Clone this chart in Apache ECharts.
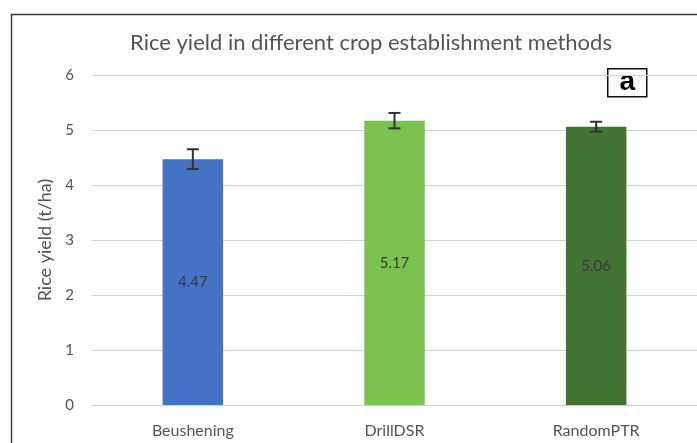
<!DOCTYPE html>
<html>
<head>
<meta charset="utf-8">
<script src="https://cdn.jsdelivr.net/npm/echarts@6/dist/echarts.min.js"></script>
<style>
  html, body { margin: 0; padding: 0; background: #ffffff; }
  #chart { width: 697px; height: 443px; }
</style>
</head>
<body>
<div id="chart"></div>
<script>
// Crop establishment methods and mean rice yield (t/ha)
const categories = ['Beushening', 'DrillDSR', 'RandomPTR'];
const yields = [4.47, 5.17, 5.06];
const yieldErrors = [0.18, 0.14, 0.09];
const barColors = ['#4472C4', '#7CC24E', '#427332'];
const yTicks = [0, 1, 2, 3, 4, 5, 6];

const chart = echarts.init(document.getElementById('chart'), null, { renderer: 'canvas' });

const textColor = '#555555';
const fontFamily = 'Lato, "Open Sans", sans-serif';

const option = {
  backgroundColor: '#ffffff',
  animation: false,
  title: {
    text: 'Rice yield in different crop establishment methods',
    left: 366,
    top: 27,
    textAlign: 'center',
    textStyle: { color: textColor, fontSize: 22, fontWeight: 'normal', fontFamily }
  },
  grid: { left: 92, top: 75, width: 607.5, height: 330 },
  xAxis: {
    type: 'category',
    data: categories,
    axisLine: { show: true, lineStyle: { color: '#d6cdc9', width: 1.2 } },
    axisTick: { show: false },
    axisLabel: { color: textColor, fontSize: 16, fontFamily, margin: 18 }
  },
  yAxis: {
    type: 'value',
    min: yTicks[0],
    max: yTicks[yTicks.length - 1],
    interval: 1,
    name: 'Rice yield (t/ha)',
    nameLocation: 'middle',
    nameGap: 36,
    nameRotate: 90,
    nameTextStyle: { color: textColor, fontSize: 18, fontFamily },
    axisLine: { show: false },
    axisTick: { show: false },
    axisLabel: { color: textColor, fontSize: 15, fontFamily, margin: 18 },
    splitLine: { lineStyle: { color: '#d9d0cc', width: 1.2 } }
  },
  series: [
    {
      type: 'bar',
      barWidth: '30%',
      data: yields.map((v, i) => ({ value: v, itemStyle: { color: barColors[i] } })),
      label: {
        show: true,
        position: 'inside',
        formatter: p => p.value.toFixed(2),
        color: '#3a3a3a',
        fontSize: 15,
        fontFamily
      }
    },
    {
      type: 'custom',
      data: yields.map((v, i) => [i, v, yieldErrors[i]]),
      z: 5,
      renderItem: (params, api) => {
        const x = api.value(0);
        const v = api.value(1);
        const e = api.value(2);
        const top = api.coord([x, v + e]);
        const bot = api.coord([x, v - e]);
        const cap = 6;
        const style = { stroke: '#333333', lineWidth: 2 };
        return {
          type: 'group',
          children: [
            { type: 'line', shape: { x1: top[0], y1: top[1], x2: bot[0], y2: bot[1] }, style },
            { type: 'line', shape: { x1: top[0] - cap, y1: top[1], x2: top[0] + cap, y2: top[1] }, style },
            { type: 'line', shape: { x1: bot[0] - cap, y1: bot[1], x2: bot[0] + cap, y2: bot[1] }, style }
          ]
        };
      }
    }
  ],
  graphic: [
    {
      type: 'rect',
      left: 9, top: 12,
      shape: { width: 700, height: 440 },
      style: { fill: 'none', stroke: '#3c3c3c', lineWidth: 1.5 },
      z: 100
    },
    {
      type: 'group',
      left: 607, top: 68,
      z: 100,
      children: [
        { type: 'rect', shape: { x: 0, y: 0, width: 39, height: 28 }, style: { fill: '#ffffff', stroke: '#111111', lineWidth: 1.5 } },
        {
          type: 'text', x: 19.5, y: 14,
          style: {
            text: 'a', fill: '#000000',
            fontSize: 28, fontWeight: 'bold', fontFamily: 'Liberation Sans',
            align: 'center', verticalAlign: 'middle'
          }
        }
      ]
    }
  ]
};

chart.setOption(option);
</script>
</body>
</html>
